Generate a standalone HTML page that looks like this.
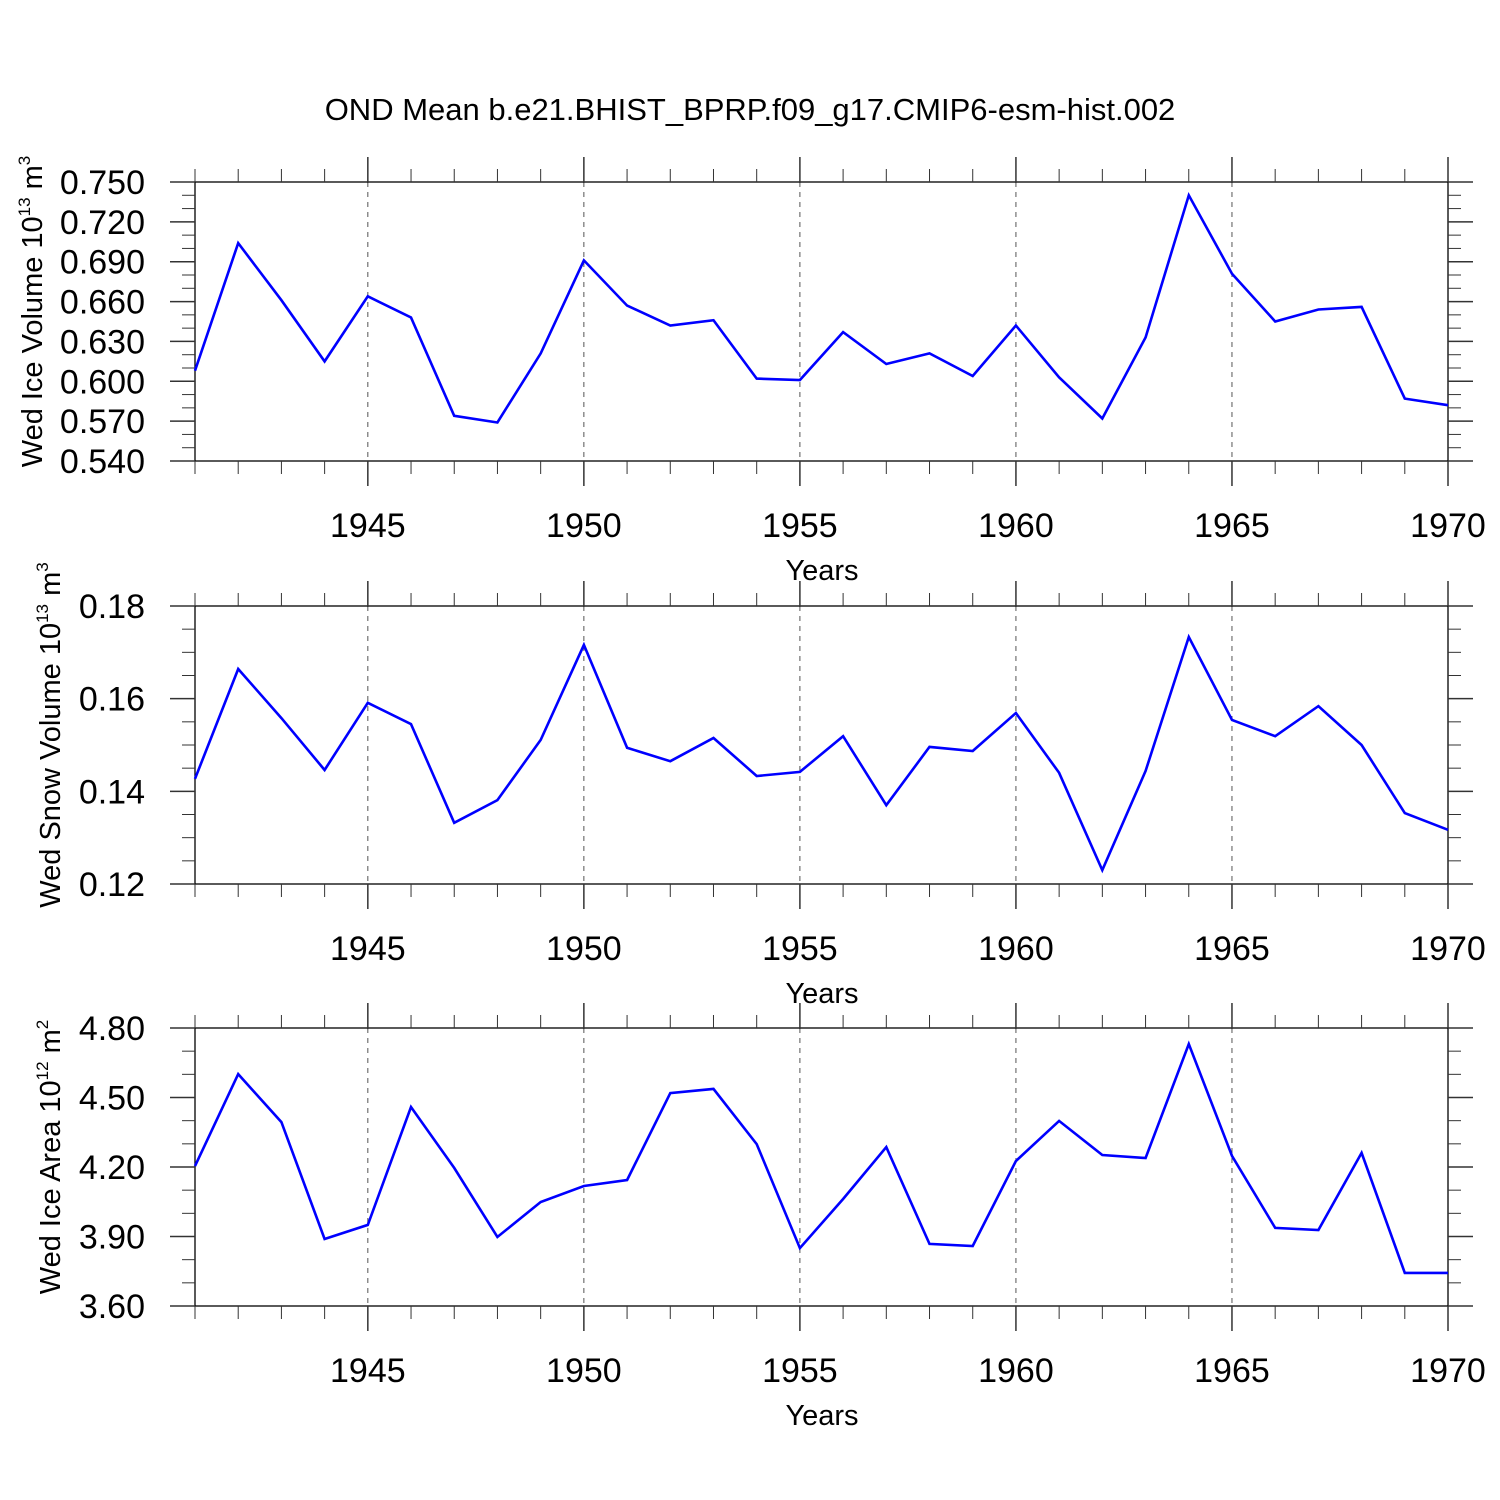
<!DOCTYPE html>
<html><head><meta charset="utf-8"><style>
html,body{margin:0;padding:0;background:#fff;}
svg{display:block;font-family:"Liberation Sans",sans-serif;}
</style></head><body>
<svg id="chart" width="1500" height="1500" viewBox="0 0 1500 1500" xmlns="http://www.w3.org/2000/svg">
<text x="750" y="120" font-size="31" text-anchor="middle">OND Mean b.e21.BHIST_BPRP.f09_g17.CMIP6-esm-hist.002</text>
</svg>
<script>
const years = [1941,1942,1943,1944,1945,1946,1947,1948,1949,1950,1951,1952,1953,1954,1955,1956,1957,1958,1959,1960,1961,1962,1963,1964,1965,1966,1967,1968,1969,1970];
const iceVolume = [0.608,0.704,0.661,0.615,0.664,0.648,0.574,0.569,0.621,0.691,0.657,0.642,0.646,0.602,0.601,0.637,0.613,0.621,0.604,0.642,0.603,0.572,0.633,0.740,0.681,0.645,0.654,0.656,0.587,0.582];
const snowVolume = [0.1427,0.1664,0.1558,0.1446,0.1591,0.1545,0.1332,0.1381,0.1511,0.1716,0.1494,0.1465,0.1515,0.1433,0.1442,0.1519,0.1370,0.1496,0.1487,0.1569,0.1440,0.1230,0.1444,0.1733,0.1554,0.1519,0.1584,0.1500,0.1353,0.1317];
const iceArea = [4.204,4.601,4.394,3.889,3.950,4.459,4.196,3.898,4.049,4.118,4.144,4.519,4.537,4.299,3.850,4.062,4.286,3.868,3.859,4.226,4.399,4.252,4.239,4.731,4.248,3.937,3.928,4.261,3.743,3.743];
const xMajorTicks = [1945,1950,1955,1960,1965,1970];
const iceVolTicks = [0.54,0.57,0.60,0.63,0.66,0.69,0.72,0.75];
const snowVolTicks = [0.12,0.14,0.16,0.18];
const iceAreaTicks = [3.60,3.90,4.20,4.50,4.80];

const NS="http://www.w3.org/2000/svg";
const svg=document.getElementById('chart');
const X0=195,X1=1448,xMin=1941,xMax=1970;
const xs=v=>X0+(v-xMin)/(xMax-xMin)*(X1-X0);
function mk(tag,attrs,parent){const e=document.createElementNS(NS,tag);for(const k in attrs)e.setAttribute(k,attrs[k]);(parent||svg).appendChild(e);return e;}

const panels=[
 {name:'ice-volume',top:182,bot:461,data:iceVolume,ticks:iceVolTicks,minor:0.01,dec:3,title:'Wed Ice Volume 10',exp:'13',unit:' m',uexp:'3',tx:42},
 {name:'snow-volume',top:606,bot:884,data:snowVolume,ticks:snowVolTicks,minor:0.005,dec:2,title:'Wed Snow Volume 10',exp:'13',unit:' m',uexp:'3',tx:60},
 {name:'ice-area',top:1028,bot:1306,data:iceArea,ticks:iceAreaTicks,minor:0.1,dec:2,title:'Wed Ice Area 10',exp:'12',unit:' m',uexp:'2',tx:60}
];
panels.forEach(p=>{
 const g=mk('g',{});
 
 
 const yMin=p.ticks[0],yMax=p.ticks[p.ticks.length-1];
 const ys=v=>p.bot-(v-yMin)/(yMax-yMin)*(p.bot-p.top);
 const ln=(x1,y1,x2,y2,w,c,d)=>{const l=mk('line',{x1,y1,x2,y2,stroke:c||'#000','stroke-width':w||1.2},g);if(d)l.setAttribute('stroke-dasharray',d);return l;};
 xMajorTicks.forEach(t=>{if(t<xMax){const l=ln(xs(t),p.top,xs(t),p.bot,1,'#555','5,5');}});
 const fr=mk('rect',{x:X0,y:p.top,width:X1-X0,height:p.bot-p.top,fill:'none',stroke:'#000','stroke-width':1.3},g);
 
 for(let yr=xMin;yr<=xMax;yr++){
  const maj=xMajorTicks.includes(yr),len=maj?25:13,x=xs(yr);
  ln(x,p.top,x,p.top-len,maj?1.5:1,'#333');
  ln(x,p.bot,x,p.bot+len,maj?1.5:1,'#333');
 }
 const n=Math.round((yMax-yMin)/p.minor);
 const per=Math.round((p.ticks[1]-p.ticks[0])/p.minor);
 for(let i=0;i<=n;i++){
  const v=yMin+i*p.minor,y=ys(v),maj=i%per===0,len=maj?25:13;
  ln(X0,y,X0-len,y,maj?1.5:1,'#333');
  ln(X1,y,X1+len,y,maj?1.5:1,'#333');
 }
 p.ticks.forEach(t=>{
  const tl=mk('text',{x:145,y:ys(t)+12,'font-size':34,'text-anchor':'end'},g);
  tl.textContent=t.toFixed(p.dec);
  
 });
 xMajorTicks.forEach(t=>{
  const tl=mk('text',{x:xs(t),y:p.bot+76,'font-size':34,'text-anchor':'middle'},g);
  tl.textContent=t;
  
 });
 const xt=mk('text',{x:822,y:p.bot+119,'font-size':29,'text-anchor':'middle'},g);
 xt.textContent='Years';
 
 const cy=(p.top+p.bot)/2-10;
 const yt=mk('text',{x:0,y:0,'font-size':29,'text-anchor':'middle',transform:`translate(${p.tx},${cy}) rotate(-90)`},g);
 
 const a=document.createElementNS(NS,'tspan');a.textContent=p.title;yt.appendChild(a);
 const b=document.createElementNS(NS,'tspan');b.setAttribute('dy','-12');b.setAttribute('font-size','17');b.textContent=p.exp;yt.appendChild(b);
 const c=document.createElementNS(NS,'tspan');c.setAttribute('dy','12');c.textContent=p.unit;yt.appendChild(c);
 const d=document.createElementNS(NS,'tspan');d.setAttribute('dy','-12');d.setAttribute('font-size','17');d.textContent=p.uexp;yt.appendChild(d);
 const pts=p.data.map((v,i)=>xs(years[i]).toFixed(1)+','+ys(v).toFixed(1)).join(' ');
 const pl=mk('polyline',{points:pts,fill:'none',stroke:'#0000ff','stroke-width':2.6,'stroke-linejoin':'miter'},g);
 
 
});
</script>
</body></html>
